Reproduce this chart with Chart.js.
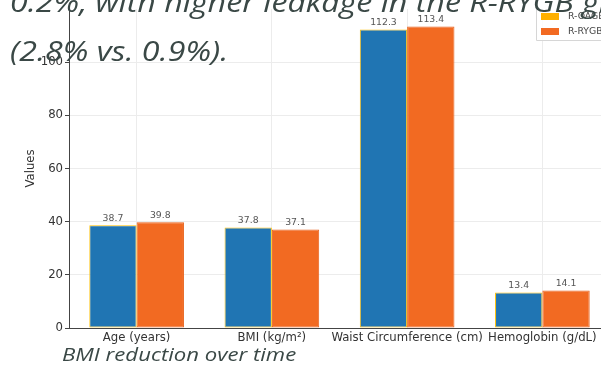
<!DOCTYPE html>
<html>
<head>
  <meta charset="utf-8">
  <title>Patient characteristics</title>
  <script src="https://cdn.jsdelivr.net/npm/chart.js"></script>
  <style>
    html, body { margin: 0; padding: 0; background: #fff; overflow: hidden; }
    #wrap { position: relative; width: 601px; height: 369px; overflow: hidden; }
    #cv { position: absolute; left: 0; top: 0; }
    .note { position: absolute; font-family: "Open Sans", sans-serif; font-style: italic;
            color: #3a4846; white-space: nowrap; line-height: 1; transform-origin: left top; }
  </style>
</head>
<body>
  <div id="wrap">
    <canvas id="cv" width="610" height="369"></canvas>
    <div class="note" style="left:10px; top:-13px; font-size:28px; transform:scaleX(1.15);">0.2%, with higher leakage in the R-RYGB group</div>
    <div class="note" style="left:10px; top:36px; font-size:28px; transform:scaleX(1.15);">(2.8% vs. 0.9%).</div>
    <div class="note" style="left:62px; top:345px; font-size:18px; transform:scaleX(1.23);">BMI reduction over time</div>
  </div>

  <script>
    // data
    const categories = ['Age (years)', 'BMI (kg/m²)', 'Waist Circumference (cm)', 'Hemoglobin (g/dL)'];
    const seriesNames = ['R-OAGB', 'R-RYGB'];
    const oagbValues = [38.7, 37.8, 112.3, 13.4];
    const rygbValues = [39.8, 37.1, 113.4, 14.1];
    const yTicks = [0, 20, 40, 60, 80, 100];

    const legendColors = ['#ffb000', '#f26a22'];

    // value labels on top of the bars
    const barLabels = {
      id: 'barLabels',
      afterDatasetsDraw(chart) {
        const ctx = chart.ctx;
        ctx.save();
        ctx.font = '9.3px "DejaVu Sans"';
        ctx.fillStyle = '#555';
        ctx.textAlign = 'center';
        ctx.textBaseline = 'bottom';
        chart.data.datasets.forEach((ds, i) => {
          chart.getDatasetMeta(i).data.forEach((bar, j) => {
            ctx.fillText(ds.data[j].toFixed(1), bar.x, bar.y - 2);
          });
        });
        ctx.restore();
      }
    };

    // matplotlib-like legend box in the upper right corner
    const boxLegend = {
      id: 'boxLegend',
      afterDraw(chart) {
        const ctx = chart.ctx;
        const x0 = 536, y0 = -5;
        ctx.save();
        ctx.fillStyle = 'rgba(255,255,255,0.85)';
        ctx.strokeStyle = '#d6d6d6';
        ctx.lineWidth = 1;
        ctx.beginPath();
        ctx.rect(x0 + 0.5, y0 + 0.5, 80, 45);
        ctx.fill();
        ctx.stroke();
        ctx.font = '9.3px "DejaVu Sans"';
        ctx.textBaseline = 'middle';
        chart.data.datasets.forEach((ds, i) => {
          const y = 16 + i * 15;
          ctx.fillStyle = legendColors[i];
          ctx.fillRect(x0 + 5, y - 3, 18, 7);
          ctx.fillStyle = '#444';
          ctx.fillText(ds.label, x0 + 32, y + 0.5);
        });
        ctx.restore();
      }
    };

    const ctx = document.getElementById('cv').getContext('2d');
    new Chart(ctx, {
      type: 'bar',
      data: {
        labels: categories,
        datasets: [{
          label: seriesNames[0],
          data: oagbValues,
          backgroundColor: '#2075b3',
          borderColor: '#ffc000',
          borderWidth: 1,
          borderSkipped: false
        }, {
          label: seriesNames[1],
          data: rygbValues,
          backgroundColor: '#f26a22',
          borderColor: '#e8621c',
          borderWidth: 1,
          borderSkipped: false
        }]
      },
      options: {
        responsive: false,
        animation: false,
        devicePixelRatio: 1,
        layout: { padding: { top: 1, right: 0, left: 0, bottom: 0 } },
        categoryPercentage: 0.7,
        barPercentage: 1.0,
        plugins: {
          legend: { display: false },
          tooltip: { enabled: false }
        },
        scales: {
          x: {
            grid: { offset: false, color: '#ececec', drawTicks: false },
            border: { color: '#444', width: 1 },
            ticks: {
              font: { family: 'DejaVu Sans', size: 11.7 },
              color: '#333',
              padding: 3,
              maxRotation: 0,
              autoSkip: false
            },
            afterFit(scale) { scale.height = 41; }
          },
          y: {
            min: 0,
            max: 120,
            afterBuildTicks(scale) {
              scale.ticks = yTicks.map(v => ({ value: v }));
            },
            grid: { color: '#ececec', tickLength: 4, tickColor: '#444' },
            border: { color: '#444', width: 1 },
            ticks: {
              font: { family: 'DejaVu Sans', size: 11.7 },
              color: '#333',
              padding: 2
            },
            title: {
              display: true,
              text: 'Values',
              font: { family: 'DejaVu Sans', size: 11.7 },
              color: '#333',
              padding: { top: 24, bottom: 0 }
            },
            afterFit(scale) { scale.width = 69; }
          }
        }
      },
      plugins: [barLabels, boxLegend]
    });
  </script>
</body>
</html>
